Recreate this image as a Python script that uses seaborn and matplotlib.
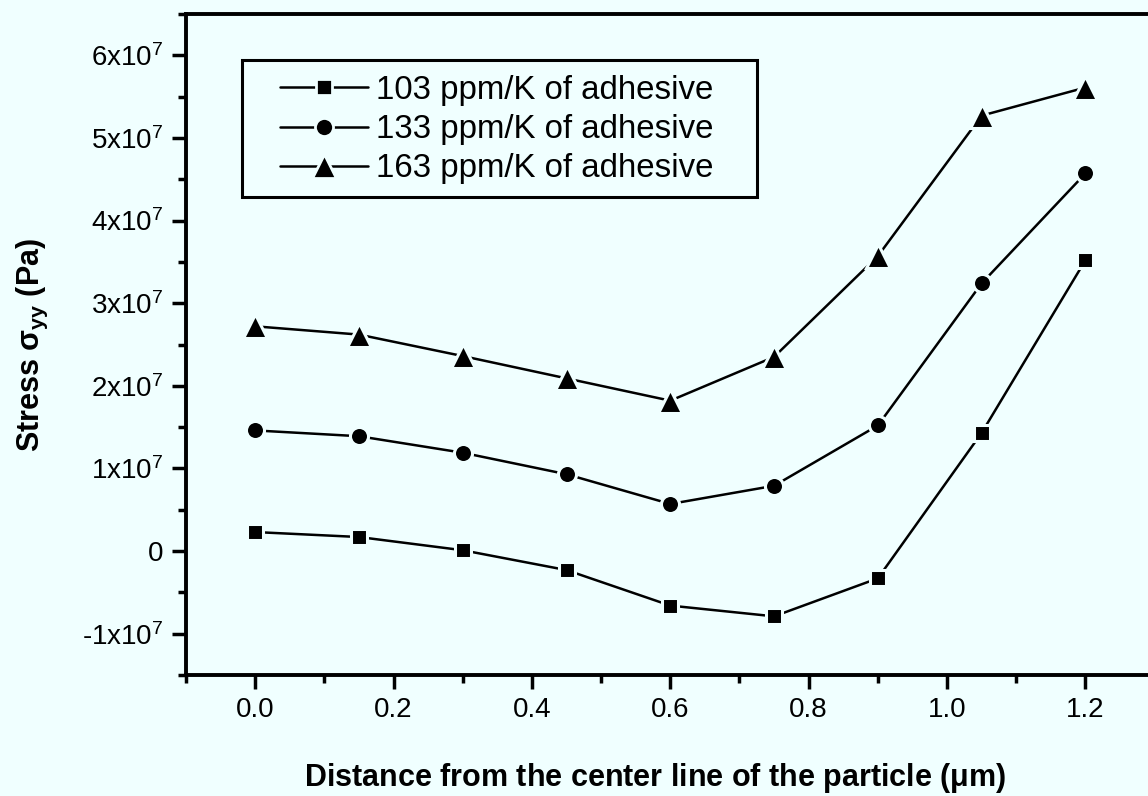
import numpy as np
import pandas as pd
import matplotlib
matplotlib.use("Agg")
import matplotlib.pyplot as plt
import seaborn as sns
from matplotlib.patches import Rectangle
from matplotlib.ticker import MultipleLocator, FuncFormatter

# Distance from the particle centre line (µm)
distance = [0.0, 0.15, 0.30, 0.45, 0.60, 0.75, 0.90, 1.05, 1.20]

# Stress sigma_yy (Pa) for three adhesive CTE values
stress_103 = [0.23e7, 0.17e7, 0.01e7, -0.23e7, -0.66e7, -0.79e7, -0.33e7, 1.43e7, 3.52e7]
stress_133 = [1.46e7, 1.39e7, 1.19e7, 0.93e7, 0.57e7, 0.79e7, 1.52e7, 3.24e7, 4.57e7]
stress_163 = [2.72e7, 2.62e7, 2.36e7, 2.09e7, 1.82e7, 2.35e7, 3.57e7, 5.27e7, 5.61e7]

series_labels = ["103 ppm/K of adhesive", "133 ppm/K of adhesive", "163 ppm/K of adhesive"]

BG = "#F0FFFF"
MARKERS = ["s", "o", "^"]
MSIZES = [11.5, 13, 17]

df = pd.DataFrame({
    "x": distance * 3,
    "y": stress_103 + stress_133 + stress_163,
    "series": [series_labels[0]] * 9 + [series_labels[1]] * 9 + [series_labels[2]] * 9,
})

sns.set_theme(style="ticks")
plt.rcParams["font.family"] = ["Liberation Sans", "DejaVu Sans"]
plt.rcParams["mathtext.fontset"] = "custom"
plt.rcParams["mathtext.rm"] = "Liberation Sans"
plt.rcParams["mathtext.it"] = "Liberation Sans:italic"
plt.rcParams["mathtext.bf"] = "Liberation Sans:bold"
for key in ["text.color", "axes.labelcolor", "xtick.color", "ytick.color",
            "axes.edgecolor"]:
    plt.rcParams[key] = "black"

fig = plt.figure(figsize=(11.48, 7.96), dpi=100, facecolor=BG)
ax = fig.add_axes([186 / 1148, 121 / 796, 968.6 / 1148, 661 / 796])
ax.set_facecolor(BG)

sns.lineplot(
    data=df, x="x", y="y", hue="series", style="series",
    palette=["black"] * 3, markers=MARKERS, dashes=False,
    linewidth=1.8, markersize=12, markeredgecolor=BG, markeredgewidth=2.2,
    ax=ax, legend=True,
)
# per-series marker sizes
for line, ms in zip(ax.lines[:3], MSIZES):
    line.set_markersize(ms)

ax.set_xlim(-0.1, 1.3)
ax.set_ylim(-1.5e7, 6.5e7)
ax.xaxis.set_major_locator(MultipleLocator(0.2))
ax.xaxis.set_minor_locator(MultipleLocator(0.1))
ax.yaxis.set_major_locator(MultipleLocator(1e7))
ax.yaxis.set_minor_locator(MultipleLocator(0.5e7))


def sci_fmt(v, pos):
    m = int(round(v / 1e7))
    if m == 0:
        return "0"
    sign = "-" if m < 0 else ""
    return sign + r"$\mathregular{%dx10^{7}}$" % abs(m)


ax.xaxis.set_major_formatter(FuncFormatter(lambda v, p: f"{v:.1f}"))
ax.yaxis.set_major_formatter(FuncFormatter(sci_fmt))

ax.tick_params(axis="both", which="major", direction="out", length=10, width=2.5,
               labelsize=20, colors="black", pad=6)
ax.tick_params(axis="both", which="minor", direction="out", length=6, width=2.5)
for side, sp in ax.spines.items():
    sp.set_linewidth(2.8)
    sp.set_color("black")

ax.set_xlabel(r"Distance from the center line of the particle ($\mathbf{\mu}$m)",
              fontsize=22, fontweight="bold", labelpad=27)
ax.xaxis.label.set_x(0.484)
ax.set_ylabel(r"Stress $\mathbf{\sigma_{yy}}$ (Pa)", fontsize=22, fontweight="bold",
              labelpad=23)

handles, labels = ax.get_legend_handles_labels()
for h, ms in zip(handles, MSIZES):
    h.set_markeredgecolor(BG)
    h.set_markeredgewidth(2.0)
    h.set_markersize(ms)
    h.set_linewidth(1.8)
leg = ax.legend(handles, labels, loc="upper left", bbox_to_anchor=(0.097, 0.908),
                borderaxespad=0, borderpad=0, fontsize=23.8, frameon=False,
                handlelength=2.65, handletextpad=0.25, labelspacing=0.25)

# legend box
ax.add_patch(Rectangle((0.0578, 0.7231), 0.5317, 0.2073, transform=ax.transAxes,
                       facecolor="none", edgecolor="black", linewidth=2.2,
                       zorder=5, clip_on=False))

fig.savefig("out.png", dpi=100, facecolor=BG)
